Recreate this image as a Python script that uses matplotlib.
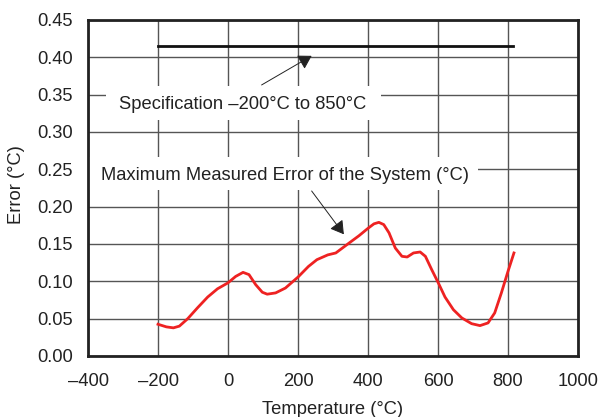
import matplotlib
matplotlib.use("Agg")
import matplotlib.pyplot as plt
from matplotlib.patches import Rectangle

# data
temp = [-200, -176, -156, -139, -115, -87, -58, -30, 0, 22, 43, 60, 79, 98,
        112, 136, 164, 200, 230, 254, 285, 308, 346, 374, 400, 417, 431, 445,
        460, 478, 497, 512, 530, 549, 564, 582, 601, 620, 644, 668, 696, 720,
        743, 762, 781, 800, 817]
err = [0.0425, 0.039, 0.0377, 0.040, 0.050, 0.0646, 0.079, 0.090, 0.098,
       0.1066, 0.112, 0.109, 0.0956, 0.0854, 0.0828, 0.0845, 0.091, 0.1057,
       0.120, 0.129, 0.1354, 0.138, 0.1513, 0.161, 0.171, 0.177, 0.179, 0.176,
       0.165, 0.1446, 0.1335, 0.1326, 0.138, 0.1393, 0.1335, 0.1157, 0.0978,
       0.079, 0.062, 0.051, 0.0433, 0.0407, 0.0443, 0.0577, 0.0844, 0.1134,
       0.138]
spec_temp = [-200, 815]
spec_err = [0.415, 0.415]

xticks = [-400, -200, 0, 200, 400, 600, 800, 1000]
yticks = [0.00, 0.05, 0.10, 0.15, 0.20, 0.25, 0.30, 0.35, 0.40, 0.45]

plt.rcParams['font.family'] = ['Liberation Sans', 'DejaVu Sans']
fs = 13.2

fig = plt.figure(figsize=(6.13, 4.17), dpi=100)
ax = fig.add_axes([88/613, 1-356/417, 490/613, 336/417])

ax.set_xlim(-400, 1000)
ax.set_ylim(0, 0.45)
ax.set_xticks(xticks)
ax.set_xticklabels(['\u2013400', '\u2013200', '0', '200', '400', '600', '800', '1000'])
ax.set_yticks(yticks)
ax.set_yticklabels(['%.2f' % v for v in yticks])
ax.tick_params(length=0, labelsize=fs, colors='#222222')
ax.tick_params(axis='x', pad=12)
ax.tick_params(axis='y', pad=11)
ax.grid(True, color='#555555', lw=1)
ax.set_axisbelow(True)
for s in ax.spines.values():
    s.set_linewidth(2)
    s.set_color('#222222')

ax.plot(spec_temp, spec_err, color='#111111', lw=2, zorder=4)
ax.plot(temp, err, color='#ee2222', lw=2, zorder=4)

# white boxes behind annotation text (hide grid)
ax.add_patch(Rectangle((-348, 0.316), 786, 0.045, facecolor='white',
                       edgecolor='none', zorder=2))
ax.add_patch(Rectangle((-400, 0.222), 1115, 0.044, facecolor='white',
                       edgecolor='none', zorder=2))

ax.text(43, 0.337, 'Specification \u2013200\u00b0C to 850\u00b0C', fontsize=fs,
        ha='center', va='center', color='#222222', zorder=5)
ax.text(164, 0.242, 'Maximum Measured Error of the System (\u00b0C)', fontsize=fs,
        ha='center', va='center', color='#222222', zorder=5)

astyle = '-|>,head_length=0.4,head_width=0.24'
ax.annotate('', xy=(239, 0.402), xytext=(96, 0.363),
            arrowprops=dict(arrowstyle=astyle, mutation_scale=20, lw=0.7,
                            color='#222222', shrinkA=0, shrinkB=0), zorder=5)
ax.annotate('', xy=(331, 0.163), xytext=(239, 0.221),
            arrowprops=dict(arrowstyle=astyle, mutation_scale=20, lw=0.7,
                            color='#222222', shrinkA=0, shrinkB=0), zorder=5)

ax.set_xlabel('Temperature (\u00b0C)', fontsize=fs, color='#222222')
ax.set_ylabel('Error (\u00b0C)', fontsize=fs, color='#222222')
ax.xaxis.set_label_coords(0.5, -0.135)
ax.yaxis.set_label_coords(-0.128, 0.51)

fig.savefig('out.png', dpi=100)
